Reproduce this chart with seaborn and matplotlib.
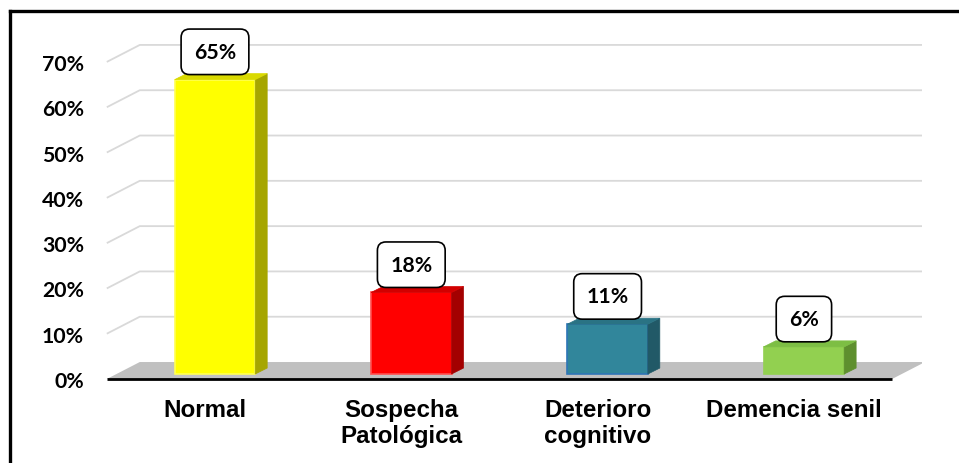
import matplotlib
matplotlib.use('Agg')
import matplotlib.pyplot as plt
from matplotlib.patches import Polygon
from matplotlib.lines import Line2D
import seaborn as sns

# data
categories = ['Normal', 'Sospecha\nPatológica', 'Deterioro\ncognitivo', 'Demencia senil']
values = [65, 18, 11, 6]
value_labels = ['65%', '18%', '11%', '6%']
y_ticks = [0, 10, 20, 30, 40, 50, 60, 70]
y_tick_labels = ['0%', '10%', '20%', '30%', '40%', '50%', '60%', '70%']

front_colors = ['#FFFF00', '#FF0000', '#31869B', '#92D050']
side_colors = ['#A6A600', '#A30000', '#215967', '#5E8F2E']
top_colors = ['#DADA00', '#D20000', '#2A7384', '#7DBE44']
edge_colors = ['#FFFF55', '#FF4D4D', '#2E75B6', '#92D050']

# fake 3d depth, in data units (x: categories, y: percent)
BAR_SHIFT = (0.051, 1.1)   # bars sit a bit behind the front plane
BAR_DEPTH = (0.061, 1.32)
WALL = (0.168, 3.75)       # back wall offset

fig = plt.figure(figsize=(9.59, 4.64), dpi=100)
ax = fig.add_axes([0.0909, 0.1615, 0.870, 0.781])

sns.barplot(x=categories, y=values, hue=categories, palette=front_colors,
            legend=False, width=0.41, saturation=1, ax=ax, zorder=3)

bars = sorted(ax.patches, key=lambda p: p.get_x())
for p, ec, sc, tc in zip(bars, edge_colors, side_colors, top_colors):
    p.set_x(p.get_x() + BAR_SHIFT[0])
    p.set_y(BAR_SHIFT[1])
    p.set_edgecolor(ec)
    p.set_linewidth(1.2)
    x0, x1 = p.get_x(), p.get_x() + p.get_width()
    y0, y1 = p.get_y(), p.get_y() + p.get_height()
    dx, dy = BAR_DEPTH
    ax.add_patch(Polygon([(x1, y0), (x1, y1), (x1 + dx, y1 + dy), (x1 + dx, y0 + dy)],
                         closed=True, facecolor=sc, edgecolor=sc, lw=0.5, zorder=3))
    ax.add_patch(Polygon([(x0, y1), (x1, y1), (x1 + dx, y1 + dy), (x0 + dx, y1 + dy)],
                         closed=True, facecolor=tc, edgecolor=tc, lw=0.5, zorder=3))

# gridlines on the back wall + side wall
left, right = -0.5, 3.5
for v in y_ticks[1:]:
    ax.plot([left, left + WALL[0], right + WALL[0]], [v, v + WALL[1], v + WALL[1]],
            color='#D9D9D9', lw=1.3, zorder=1, solid_capstyle='butt')

# floor
ax.add_patch(Polygon([(left, 0), (right, 0), (right + WALL[0], WALL[1]), (left + WALL[0], WALL[1])],
                     closed=True, facecolor='#C0C0C0', edgecolor='none', zorder=1.5))
ax.plot([left, right], [0, 0], color='black', lw=2, zorder=2, solid_capstyle='butt')

# value labels in rounded boxes
for p, lab in zip(bars, value_labels):
    ax.annotate(lab, xy=(p.get_x() + p.get_width() / 2, p.get_y() + p.get_height()),
                xytext=(0, 20), textcoords='offset points', ha='center', va='center',
                fontsize=15.3, fontweight='bold', family='Lato', zorder=5,
                bbox=dict(boxstyle='round,pad=0.6,rounding_size=0.4', fc='white', ec='black', lw=1.2))

# category labels (front plane)
for i, cat in enumerate(categories):
    ax.annotate(cat, xy=(i, 0), xytext=(0, -13.5), textcoords='offset points',
                ha='center', va='top', multialignment='center', linespacing=1.2,
                fontsize=17.4, fontweight='bold', family='Liberation Sans')

ax.set_xlim(-0.6, 3.65)
ax.set_ylim(-2, 78)
ax.set_xticks([])
ax.set_yticks(y_ticks)
ax.set_yticklabels(y_tick_labels, fontsize=15.3, fontweight='bold', family='Lato')
ax.tick_params(axis='y', length=0, pad=2.3)
ax.set_xlabel('')
ax.set_ylabel('')
for s in ax.spines.values():
    s.set_visible(False)
ax.patch.set_alpha(0)

# outer frame (only top and left edges are visible in the picture)
fx, fy = 10 / 959, 1 - 12 / 464
fig.add_artist(Line2D([fx, fx], [0, fy], color='black', lw=2.4, transform=fig.transFigure))
fig.add_artist(Line2D([fx, 1], [fy, fy], color='black', lw=2.4, transform=fig.transFigure))

fig.savefig('out.png', dpi=100)
